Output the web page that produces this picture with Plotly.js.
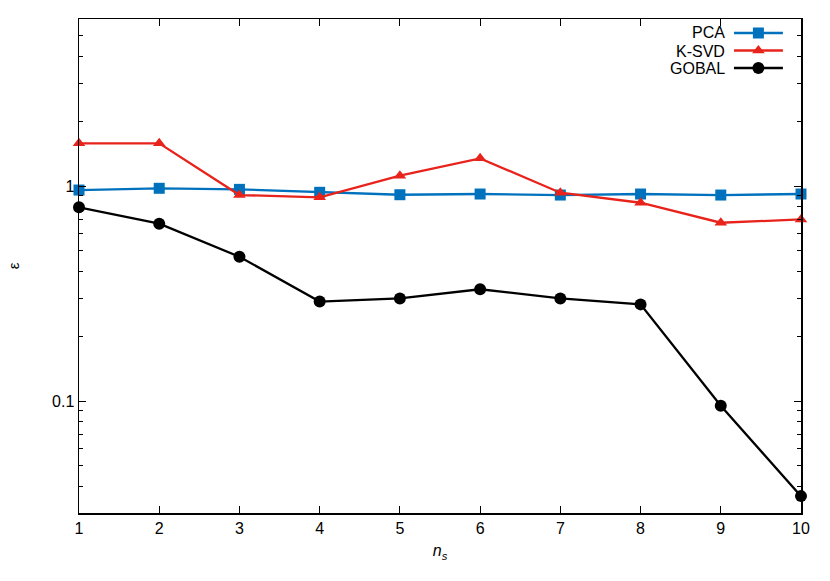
<!DOCTYPE html>
<html>
<head>
<meta charset="utf-8">
<script src="https://cdn.plot.ly/plotly-3.0.1.min.js"></script>
<style>
  html, body { margin: 0; padding: 0; background: #fff; }
  #chart { width: 830px; height: 581px; }
</style>
</head>
<body>
<div id="chart"></div>
<script>
// n_s values on the x axis
const ns = [1, 2, 3, 4, 5, 6, 7, 8, 9, 10];

// Error per method:
const pca_err   = [0.958, 0.976, 0.965, 0.935, 0.911, 0.918, 0.908, 0.918, 0.908, 0.918];
const ksvd_err  = [1.58, 1.58, 0.908, 0.886, 1.117, 1.345, 0.931, 0.836, 0.675, 0.699];
const gobal_err = [0.796, 0.668, 0.469, 0.290, 0.300, 0.331, 0.300, 0.2815, 0.0951, 0.0361];

const series_names = ["PCA", "K-SVD", "GOBAL"];
const y_tick_vals = [0.1, 1];
const y_tick_text = ["0.1", "1"];

// minor ticks at 2..9 of each decade
const y_minor_vals = [];
[0.01, 0.1, 1].forEach(d => { for (let k = 2; k <= 9; k++) y_minor_vals.push(k * d); });

const colors = ["#0072bd", "#e8231b", "#000000"];
const symbols = ["square", "triangle-up", "circle"];
const sizes = [11, 11, 12];
const FONT = "Liberation Sans";

const data_traces = [pca_err, ksvd_err, gobal_err].map((ys, i) => ({
    type: "scatter",
    mode: "lines+markers",
    name: series_names[i],
    x: ns,
    y: ys,
    cliponaxis: false,
    line: { color: colors[i], width: 2.3 },
    marker: { color: colors[i], symbol: symbols[i], size: sizes[i] },
    showlegend: false
}));

// Legend samples (gnuplot style: text on the left, sample on the right)
const legend_lines = series_names.map((n, i) => ({
    type: "scatter", mode: "lines",
    x: [0, 1], y: [2 - i, 2 - i],
    xaxis: "x2", yaxis: "y2",
    line: { color: colors[i], width: 2.3 },
    hoverinfo: "skip", showlegend: false
}));
const legend_marks = series_names.map((n, i) => ({
    type: "scatter", mode: "markers",
    x: [0.5], y: [2 - i],
    xaxis: "x2", yaxis: "y2",
    marker: { color: colors[i], symbol: symbols[i], size: sizes[i] },
    hoverinfo: "skip", showlegend: false
}));

const legend_labels = series_names.map((n, i) => ({
    xref: "paper", yref: "paper",
    x: 0.897, y: [0.9717, 0.9352, 0.9008][i],
    xanchor: "right", yanchor: "middle",
    text: n, showarrow: false,
    font: { family: FONT, size: 16, color: "#000" }
}));

Plotly.newPlot("chart", data_traces.concat(legend_lines, legend_marks), {
    width: 830,
    height: 581,
    margin: { l: 79, r: 29, t: 19, b: 68 },
    paper_bgcolor: "#fff",
    plot_bgcolor: "#fff",
    font: { family: FONT, size: 15, color: "#000" },
    showlegend: false,

    xaxis: {
        range: [1, 10],
        tickvals: ns,
        ticks: "inside",
        ticklen: 7,
        tickcolor: "#000",
        showgrid: false,
        zeroline: false,
        showline: true,
        linecolor: "#000",
        linewidth: 1.5,
        mirror: "ticks",
        tickfont: { family: FONT, size: 16, color: "#000" },
        title: { text: "<i>n</i><sub><i>s</i></sub>", standoff: 9, font: { family: FONT, size: 16, color: "#000" } }
    },

    yaxis: {
        type: "log",
        range: [-1.521, 0.777],
        tickmode: "array",
        tickvals: y_tick_vals,
        ticktext: y_tick_text,
        ticks: "inside",
        ticklen: 7,
        tickcolor: "#000",
        minor: { tickmode: "array", tickvals: y_minor_vals, ticks: "inside", ticklen: 4, tickcolor: "#000", showgrid: false },
        showgrid: false,
        zeroline: false,
        showline: true,
        linecolor: "#000",
        linewidth: 1.5,
        mirror: "ticks",
        tickfont: { family: FONT, size: 16, color: "#000" },
        title: { text: "ε", standoff: 29, font: { family: FONT, size: 15, color: "#000" } }
    },

    // hidden axes used only for the legend block
    xaxis2: { domain: [0.907, 0.975], range: [0, 1], visible: false, fixedrange: true, anchor: "y2" },
    yaxis2: { domain: [0.8831, 0.9894], range: [-0.5, 2.5], visible: false, fixedrange: true, anchor: "x2" },

    annotations: legend_labels
}, { displayModeBar: false, staticPlot: true });
</script>
</body>
</html>
